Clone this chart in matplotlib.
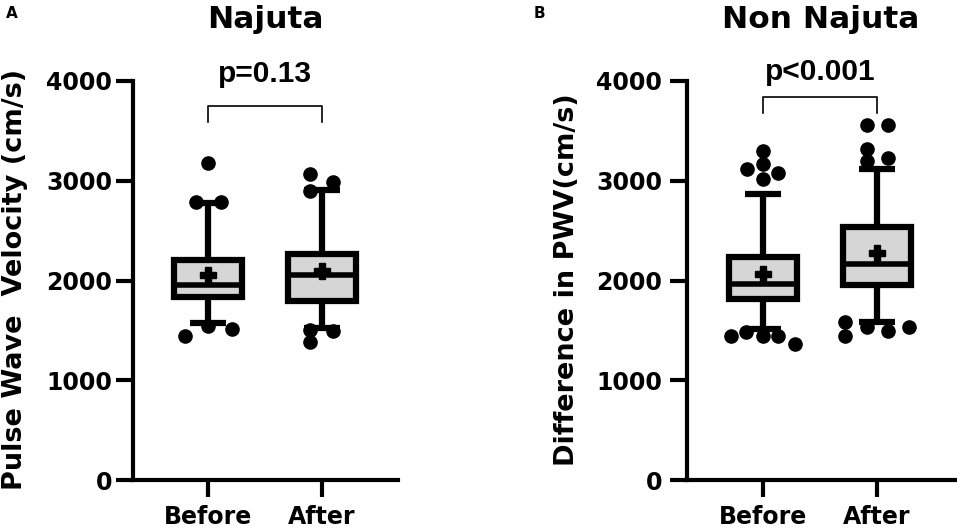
import matplotlib.pyplot as plt
import matplotlib.patheffects as pe

plt.rcParams['font.family'] = ['DejaVu Sans']
plt.rcParams['font.weight'] = 'bold'

groups = ['Before', 'After']

# panel A - Najuta
naj_q1 = [1837, 1794]
naj_med = [1953, 2060]
naj_q3 = [2209, 2266]
naj_mean = [2060, 2093]
naj_lo = [1578, 1528]
naj_hi = [2774, 2907]
naj_out_before = [3173, 2791, 2791, 1445, 1545, 1512]
naj_out_after = [3066, 2990, 2900, 1505, 1495, 1385]

# panel B - Non Najuta
non_q1 = [1810, 1959]
non_med = [1969, 2164]
non_q3 = [2240, 2537]
non_mean = [2065, 2273]
non_lo = [1512, 1585]
non_hi = [2868, 3116]
non_out_before = [3298, 3165, 3116, 3073, 3017, 1446, 1479, 1446, 1446, 1364]
non_out_after = [3562, 3562, 3314, 3198, 3231, 1579, 1446, 1529, 1496, 1529]

# horizontal spreading of the dots (layout only)
spr_naj_before = [0, -0.11, 0.11, -0.2, 0, 0.21]
spr_naj_after = [-0.1, 0.1, -0.1, -0.1, 0.1, -0.1]
spr_non_before = [0, 0, -0.14, 0.13, 0, -0.28, -0.15, 0, 0.13, 0.28]
spr_non_after = [-0.09, 0.1, -0.09, -0.09, 0.1, -0.28, -0.28, -0.09, 0.1, 0.28]


def draw_panel(ax, q1, med, q3, mean, lo, hi, outs, spreads, title, ptxt, br_lo, br_hi, p_y):
    stats = []
    for i in range(len(groups)):
        stats.append(dict(q1=q1[i], med=med[i], q3=q3[i], mean=mean[i],
                          whislo=lo[i], whishi=hi[i], fliers=[]))
    bp = ax.bxp(stats, positions=[0, 1], widths=0.6, capwidths=0.32,
                patch_artist=True, showmeans=True, showfliers=False,
                boxprops=dict(facecolor='#d6d6d6', edgecolor='black', linewidth=4.5),
                whiskerprops=dict(color='black', linewidth=4.5, solid_capstyle='butt'),
                capprops=dict(color='black', linewidth=4.5, solid_capstyle='butt'),
                medianprops=dict(color='black', linewidth=4, solid_capstyle='butt'),
                meanprops=dict(marker='P', markerfacecolor='black',
                               markeredgecolor='black', markersize=11))
    # thin white rim inside the box, like the original export
    for b in bp['boxes']:
        b.set_path_effects([pe.Stroke(linewidth=5.8, foreground='white'), pe.Normal()])
    for m in bp['medians']:
        m.set_zorder(2.2)
    for w in bp['whiskers'] + bp['caps']:
        w.set_zorder(2.5)
    for m in bp['means']:
        m.set_zorder(3)

    for i, (vals, sp) in enumerate(zip(outs, spreads)):
        ax.plot([i + s for s in sp], vals, 'o', color='black', ms=9.5,
                clip_on=False, zorder=4)

    ax.plot([0, 0, 1, 1], [br_lo, br_hi, br_hi, br_lo], color='black', lw=1.2,
            clip_on=False)
    ax.text(0.5, p_y, ptxt, ha='center', va='baseline', fontsize=21.5,
            fontweight='bold', family=['Liberation Sans', 'DejaVu Sans'], clip_on=False)
    ax.text(0.5, 1.133, title, transform=ax.transAxes, ha='center', va='baseline',
            fontsize=22.5, fontweight='bold')

    ax.set_ylim(0, 4000)
    ax.set_yticks([0, 1000, 2000, 3000, 4000])
    ax.set_xticks([0, 1])
    ax.set_xticklabels(groups)
    for s in ['top', 'right']:
        ax.spines[s].set_visible(False)
    for s in ['left', 'bottom']:
        ax.spines[s].set_linewidth(3)
    ax.tick_params(length=12, width=3, labelsize=17)
    ax.tick_params(axis='x', pad=6)
    for lab in ax.get_xticklabels() + ax.get_yticklabels():
        lab.set_fontweight('bold')


fig = plt.figure(figsize=(9.57, 5.32), dpi=100)
ax1 = fig.add_axes([133 / 957, 52 / 532, 265 / 957, 399 / 532])
ax2 = fig.add_axes([687 / 957, 52 / 532, 268 / 957, 399 / 532])

draw_panel(ax1, naj_q1, naj_med, naj_q3, naj_mean, naj_lo, naj_hi,
           [naj_out_before, naj_out_after], [spr_naj_before, spr_naj_after],
           'Najuta', 'p=0.13', 3589, 3749, 3985)
draw_panel(ax2, non_q1, non_med, non_q3, non_mean, non_lo, non_hi,
           [non_out_before, non_out_after], [spr_non_before, spr_non_after],
           'Non Najuta', 'p<0.001', 3679, 3840, 4010)

ax1.set_xlim(-0.66, 1.67)
ax2.set_xlim(-0.667, 1.684)
ax1.tick_params(axis='y', pad=3)
ax2.tick_params(axis='y', pad=6)

fig.text(15 / 957, 1 - 279 / 532, 'Pulse Wave  Velocity (cm/s)', rotation=90,
         ha='center', va='center', fontsize=19.5, fontweight='bold')
fig.text(567 / 957, 1 - 280 / 532, 'Difference in PWV(cm/s)', rotation=90,
         ha='center', va='center', fontsize=19.5, fontweight='bold')
fig.text(12 / 957, 1 - 14 / 532, 'A', ha='center', va='center', fontsize=11,
         fontweight='bold')
fig.text(539 / 957, 1 - 13 / 532, 'B', ha='center', va='center', fontsize=11,
         fontweight='bold')

fig.savefig('out.png', dpi=100)
